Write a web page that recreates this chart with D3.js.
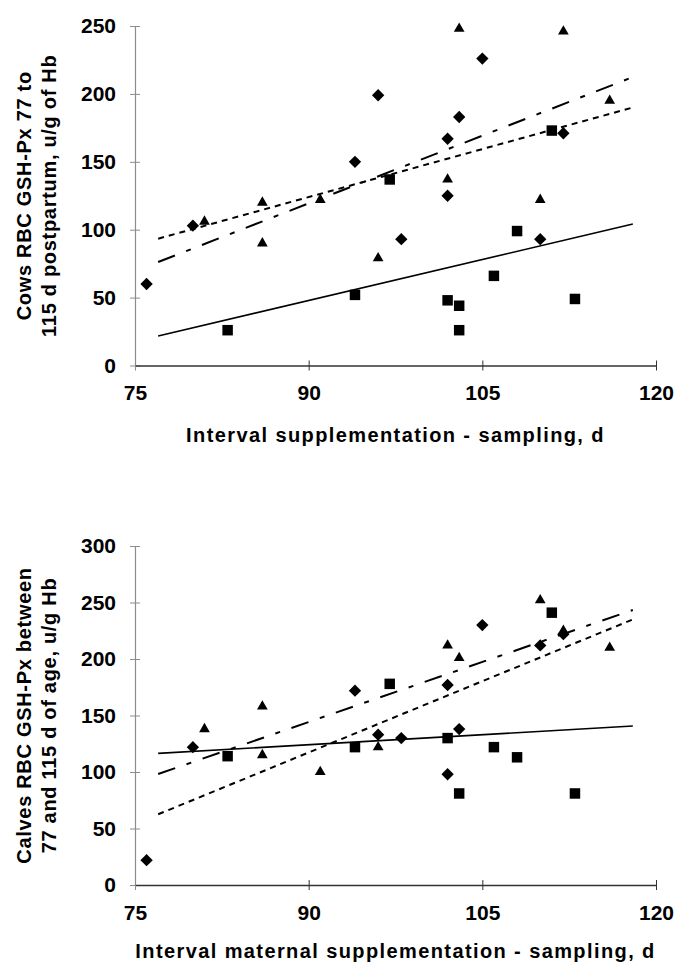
<!DOCTYPE html>
<html>
<head>
<meta charset="utf-8">
<script src="https://cdn.jsdelivr.net/npm/d3@7"></script>
<style>
  body { margin: 0; background: #fff; }
  svg { display: block; }
  text { font-family: "Liberation Sans", Arial, sans-serif; font-weight: bold; fill: #000; }
</style>
</head>
<body>
<div id="wrapper"></div>
<script>
// x ticks shared by both panels (days)
const xTicks = [75, 90, 105, 120];
const cowYTicks = [0, 50, 100, 150, 200, 250];
const calfYTicks = [0, 50, 100, 150, 200, 250, 300];

// cows, RBC GSH-Px (u/g Hb) vs interval (d)
const cowDiamonds = [[76,60],[80,103],[94,150],[96,199],[98,93],[102,167],[102,125],[103,183],[105,226],[110,93],[112,171]];
const cowTriangles = [[81,106],[86,120],[86,90],[91,122],[96,79],[102,137],[103,248],[110,122],[112,246],[116,195]];
const cowSquares = [[83,26],[94,52],[97,137],[102,48],[103,44],[103,26],[106,66],[108,99],[111,173],[113,49]];
// trend lines, start and end points
const cowDiamondTrend = [[77,93.4],[118,190]];
const cowTriangleTrend = [[77,76.2],[118,212.4]];
const cowSquareTrend = [[77,21.7],[118,104.2]];

// calves
const calfDiamonds = [[76,22],[80,122],[94,172],[96,133],[98,130],[102,177],[102,98],[103,138],[105,230],[110,212],[112,222]];
const calfTriangles = [[81,138],[86,158],[86,115],[91,100],[96,122],[102,212],[103,201],[110,252],[112,225],[116,210]];
const calfSquares = [[83,114],[94,122],[97,178],[102,130],[103,81],[106,122],[108,113],[111,241],[113,81]];
const calfDiamondTrend = [[77,62.6],[118,235]];
const calfTriangleTrend = [[77,98.2],[118,243.4]];
const calfSquareTrend = [[77,116.5],[118,140.7]];

const width = 689, height = 966;
const plotLeft = 135, plotRight = 656;

const svg = d3.select("#wrapper").append("svg")
    .attr("width", width)
    .attr("height", height);

function panel(opt) {
    const x = d3.scaleLinear().domain([75, 120]).range([plotLeft, plotRight]);
    const y = d3.scaleLinear().domain([0, opt.yMax]).range([opt.bottom, opt.top]);
    const g = svg.append("g");

    // y axis
    const yAxis = g.append("g")
        .attr("transform", `translate(${plotLeft},0)`)
        .call(d3.axisLeft(y).tickValues(opt.yTicks).tickSizeInner(5).tickSizeOuter(0).tickPadding(14));
    yAxis.select(".domain").attr("stroke", "#8c8c8c").attr("stroke-width", 1.2);
    yAxis.selectAll(".tick line").attr("stroke", "#8c8c8c").attr("x2", 5).attr("x1", -5);
    yAxis.selectAll(".tick text").style("font-size", "21px");

    // x axis
    const xAxis = g.append("g")
        .attr("transform", `translate(0,${opt.bottom})`)
        .call(d3.axisBottom(x).tickValues(xTicks).tickSizeInner(5).tickSizeOuter(0).tickPadding(15));
    xAxis.select(".domain").attr("stroke", "#333").attr("stroke-width", 1.5);
    xAxis.selectAll(".tick line").attr("stroke", "#333").attr("y1", -5).attr("y2", 5);
    xAxis.selectAll(".tick text").style("font-size", "21px");
    xAxis.selectAll(".tick").filter(d => d === 75).select("line").attr("stroke", "#8c8c8c").attr("y1", 0);

    // trend lines
    const line = d3.line().x(d => x(d[0])).y(d => y(d[1]));
    const trends = [
        {pts: opt.squareTrend, dash: null, w: 1.6},
        {pts: opt.diamondTrend, dash: "6,5", w: 2},
        {pts: opt.triangleTrend, dash: "18,12,5,12", w: 2}
    ];
    g.selectAll("path.trend").data(trends).enter().append("path")
        .attr("class", "trend")
        .attr("d", d => line(d.pts))
        .attr("fill", "none")
        .attr("stroke", "#000")
        .attr("stroke-width", d => d.w)
        .attr("stroke-dasharray", d => d.dash);

    // markers
    const marks = [
        {data: opt.diamonds, sym: d3.symbolSquare, size: 76, rot: 45},
        {data: opt.triangles, sym: d3.symbolTriangle, size: 50, rot: 0},
        {data: opt.squares, sym: d3.symbolSquare, size: 110, rot: 0}
    ];
    marks.forEach(m => {
        g.append("g").selectAll("path").data(m.data).enter().append("path")
            .attr("d", d3.symbol().type(m.sym).size(m.size))
            .attr("transform", d => `translate(${x(d[0])},${y(d[1])}) rotate(${m.rot})`)
            .attr("fill", "#000");
    });

    // axis titles
    const cy = (opt.top + opt.bottom) / 2;
    opt.yTitle.forEach((t, i) => {
        svg.append("text")
            .attr("transform", `translate(${31 + i * 25},${cy}) rotate(-90)`)
            .attr("text-anchor", "middle")
            .style("font-size", "20px")
            .style("letter-spacing", "0.7px")
            .text(t);
    });
    svg.append("text")
        .attr("x", (plotLeft + plotRight) / 2)
        .attr("y", opt.bottom + opt.xTitleGap)
        .attr("text-anchor", "middle")
        .style("font-size", "20px")
        .style("letter-spacing", "1.4px")
        .text(opt.xTitle);
}

panel({
    yMax: 250, top: 26, bottom: 365.5, yTicks: cowYTicks,
    diamonds: cowDiamonds, triangles: cowTriangles, squares: cowSquares,
    diamondTrend: cowDiamondTrend, triangleTrend: cowTriangleTrend, squareTrend: cowSquareTrend,
    yTitle: ["Cows RBC GSH-Px 77 to", "115 d postpartum, u/g of Hb"],
    xTitle: "Interval supplementation - sampling, d", xTitleGap: 76
});

panel({
    yMax: 300, top: 546, bottom: 885, yTicks: calfYTicks,
    diamonds: calfDiamonds, triangles: calfTriangles, squares: calfSquares,
    diamondTrend: calfDiamondTrend, triangleTrend: calfTriangleTrend, squareTrend: calfSquareTrend,
    yTitle: ["Calves RBC GSH-Px between", "77 and 115 d of age, u/g Hb"],
    xTitle: "Interval maternal supplementation - sampling, d", xTitleGap: 73
});
</script>
</body>
</html>
